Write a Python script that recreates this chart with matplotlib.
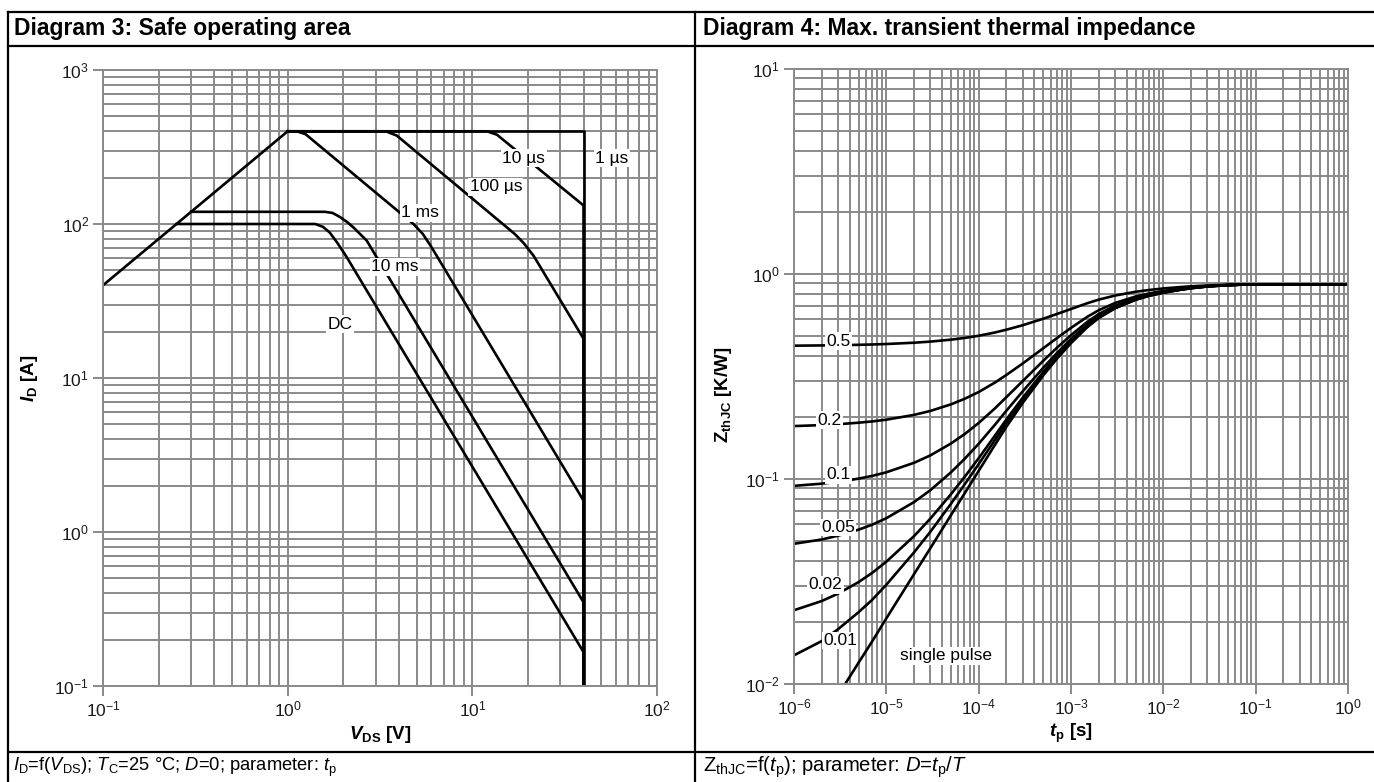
import numpy as np
import matplotlib
matplotlib.use("Agg")
import matplotlib.pyplot as plt
from matplotlib.lines import Line2D
from matplotlib.ticker import LogLocator, NullFormatter

plt.rcParams["font.family"] = ["Liberation Sans", "DejaVu Sans"]
plt.rcParams["mathtext.fontset"] = "custom"
plt.rcParams["mathtext.rm"] = "Liberation Sans"
plt.rcParams["mathtext.it"] = "Liberation Sans:italic"
plt.rcParams["mathtext.bf"] = "Liberation Sans:bold"
plt.rcParams["mathtext.bfit"] = "Liberation Sans:bold:italic"
plt.rcParams["axes.unicode_minus"] = False

# Diagram 3 - safe operating area, V_DS [V] vs I_D [A]
rds_v = [0.1, 1.0]
rds_i = [40, 400]
us1_v = [1.0, 40, 40]
us1_i = [400, 400, 0.1]
us10_v = [1.0, 12.0, 13.6, 40, 40]
us10_i = [400, 400, 380, 132, 0.1]
us100_v = [1.0, 3.4, 3.9, 17.0, 19.0, 21.5, 40, 40]
us100_i = [400, 400, 375, 86, 75, 62, 18, 0.1]
ms1_v = [1.0, 1.12, 1.25, 4.8, 5.4, 6.0, 40, 40]
ms1_i = [400, 400, 383, 100, 86, 71, 1.6, 0.1]
ms10_v = [0.3, 1.59, 1.75, 1.92, 2.1, 2.27, 2.68, 40, 40]
ms10_i = [120, 120, 118, 111, 103, 95, 78, 0.35, 0.1]
dc_v = [0.25, 1.41, 1.55, 1.69, 1.85, 2.08, 40, 40]
dc_i = [100, 100, 96, 88, 76, 61.4, 0.166, 0.1]

# Diagram 4 - max. transient thermal impedance, t_p [s] vs Z_thJC [K/W]
tp = [1e-6, 2e-6, 3e-6, 5e-6, 7e-6, 1e-5, 2e-5, 3e-5, 5e-5, 7e-5,
      1e-4, 1.5e-4, 2e-4, 3e-4, 5e-4, 7e-4, 1e-3, 1.5e-3, 2e-3, 3e-3,
      5e-3, 7e-3, 1e-2, 1.5e-2, 2e-2, 3e-2, 5e-2, 7e-2, 0.1, 0.3, 1.0]
z_d05 = [0.447, 0.4483, 0.4494, 0.4514, 0.4531, 0.4555, 0.4622, 0.468, 0.4783, 0.4874,
         0.4998, 0.5184, 0.535, 0.5625, 0.605, 0.6375, 0.675, 0.72, 0.75, 0.785,
         0.819, 0.8355, 0.85, 0.863, 0.871, 0.8795, 0.8855, 0.8885, 0.89, 0.89, 0.89]
z_d02 = [0.1812, 0.1832, 0.185, 0.1882, 0.1909, 0.1947, 0.2055, 0.2148, 0.2312, 0.2458,
         0.2656, 0.2954, 0.322, 0.366, 0.434, 0.486, 0.546, 0.618, 0.666, 0.722,
         0.7764, 0.8036, 0.826, 0.8468, 0.8596, 0.8732, 0.8836, 0.8876, 0.89, 0.89, 0.89]
z_d01 = [0.0926, 0.0949, 0.0969, 0.1004, 0.1035, 0.1078, 0.12, 0.1304, 0.1489, 0.1652,
         0.1876, 0.221, 0.251, 0.3005, 0.377, 0.4355, 0.503, 0.584, 0.638, 0.701,
         0.7622, 0.7928, 0.818, 0.8414, 0.8558, 0.8711, 0.8828, 0.8873, 0.89, 0.89, 0.89]
z_d005 = [0.0483, 0.0507, 0.0529, 0.0566, 0.0598, 0.0644, 0.0772, 0.0882, 0.1077, 0.125,
          0.1485, 0.1839, 0.2155, 0.2678, 0.3485, 0.4103, 0.4815, 0.567, 0.624, 0.6905,
          0.7551, 0.7874, 0.814, 0.8387, 0.8539, 0.8701, 0.8824, 0.8872, 0.89, 0.89, 0.89]
z_d002 = [0.0229, 0.0254, 0.0276, 0.0314, 0.0348, 0.0395, 0.0527, 0.0641, 0.0842, 0.102,
          0.1263, 0.1628, 0.1954, 0.2493, 0.3326, 0.3963, 0.4698, 0.558, 0.6168, 0.6854,
          0.752, 0.7854, 0.8128, 0.8383, 0.854, 0.8706, 0.8834, 0.888, 0.89, 0.89, 0.89]
z_d001 = [0.0138, 0.0162, 0.0185, 0.0224, 0.0257, 0.0305, 0.0439, 0.0553, 0.0756, 0.0937,
          0.1182, 0.155, 0.188, 0.2425, 0.3266, 0.391, 0.4652, 0.5543, 0.6137, 0.683,
          0.7503, 0.784, 0.8117, 0.8374, 0.8533, 0.8701, 0.883, 0.8879, 0.89, 0.89, 0.89]
z_single = [0.004, 0.0065, 0.0088, 0.0127, 0.0161, 0.0209, 0.0344, 0.046, 0.0665, 0.0847,
            0.1095, 0.1467, 0.18, 0.235, 0.32, 0.385, 0.46, 0.55, 0.61, 0.68,
            0.748, 0.782, 0.81, 0.836, 0.852, 0.869, 0.882, 0.887, 0.89, 0.89, 0.89]

W, H = 1374, 782
fig = plt.figure(figsize=(W / 100, H / 100), dpi=100)
fig.patch.set_facecolor("white")

def px(x0, y0, x1, y1):
    return [x0 / W, 1 - y1 / H, (x1 - x0) / W, (y1 - y0) / H]

ax1 = fig.add_axes(px(103, 70, 657, 686))
ax2 = fig.add_axes(px(794, 69, 1348, 684))

gridc = "#8a8a8a"
for ax in (ax1, ax2):
    ax.set_xscale("log")
    ax.set_yscale("log")
    for axis in (ax.xaxis, ax.yaxis):
        axis.set_major_locator(LogLocator(base=10, numticks=30))
        axis.set_minor_locator(LogLocator(base=10, subs=np.arange(2, 10), numticks=100))
        axis.set_minor_formatter(NullFormatter())
    ax.set_axisbelow(True)
    ax.grid(True, which="both", color=gridc, lw=1.4)
    for s in ax.spines.values():
        s.set_color(gridc)
        s.set_linewidth(1.4)
    ax.tick_params(which="major", length=7, width=1.4, color=gridc, labelsize=12.5,
                   pad=3, labelcolor="#1a1a1a")
    ax.tick_params(which="minor", length=0)

lw = 1.9
box = dict(facecolor="white", edgecolor="none", pad=1.0)

# SOA
ax1.plot(rds_v, rds_i, color="black", lw=lw)
ax1.plot(us1_v, us1_i, color="black", lw=lw)
ax1.plot(us10_v, us10_i, color="black", lw=lw)
ax1.plot(us100_v, us100_i, color="black", lw=lw)
ax1.plot(ms1_v, ms1_i, color="black", lw=lw)
ax1.plot(ms10_v, ms10_i, color="black", lw=lw)
ax1.plot(dc_v, dc_i, color="black", lw=lw)
ax1.set_xlim(0.1, 100)
ax1.set_ylim(0.1, 1000)
for txt, x, y in [("1 µs", 57, 268), ("10 µs", 19, 268), ("100 µs", 13.4, 174),
                  ("1 ms", 5.2, 118), ("10 ms", 3.8, 52.6), ("DC", 1.92, 22.4)]:
    ax1.text(x, y, txt, fontsize=12.5, ha="center", va="center", bbox=box, zorder=5)

ax1.set_xlabel(r"$\mathbfit{V}_{\mathbf{DS}}$ [V]", fontsize=13.5, fontweight="bold")
ax1.set_ylabel(r"$\mathbfit{I}_{\mathbf{D}}$ [A]", fontsize=13.5, fontweight="bold")
ax1.xaxis.set_label_coords(0.5, -0.062)
ax1.yaxis.set_label_coords(-0.114, 0.5)

# Zth
for z in (z_d05, z_d02, z_d01, z_d005, z_d002, z_d001, z_single):
    ax2.plot(tp, z, color="black", lw=lw)
ax2.set_xlim(1e-6, 1)
ax2.set_ylim(0.01, 10)
for txt, x, y in [("0.5", 3.0e-6, 0.47), ("0.2", 2.45e-6, 0.194), ("0.1", 3.0e-6, 0.105),
                  ("0.05", 3.0e-6, 0.058), ("0.02", 2.2e-6, 0.0305), ("0.01", 3.15e-6, 0.0163)]:
    ax2.text(x, y, txt, fontsize=12.5, ha="center", va="center", bbox=box, zorder=5)
ax2.text(4.4e-5, 0.0137, "single pulse", fontsize=12.5, ha="center", va="center",
         bbox=box, zorder=5)

ax2.set_xlabel(r"$\mathbfit{t}_{\mathbf{p}}$ [s]", fontsize=13.5, fontweight="bold")
ax2.set_ylabel(r"Z$_{\mathbf{thJC}}$ [K/W]", fontsize=13.5, fontweight="bold")
ax2.xaxis.set_label_coords(0.5, -0.062)
ax2.yaxis.set_label_coords(-0.108, 0.47)

# table frame
def hline(y, x0=8, x1=W):
    fig.add_artist(Line2D([x0 / W, x1 / W], [1 - y / H, 1 - y / H], color="black", lw=1.6))

def vline(x, y0=12, y1=H):
    fig.add_artist(Line2D([x / W, x / W], [1 - y0 / H, 1 - y1 / H], color="black", lw=1.6))

hline(12)
hline(46)
hline(752)
vline(8)
vline(695)

fig.text(14 / W, 1 - 28 / H, "Diagram 3: Safe operating area", fontsize=16.5,
         fontweight="bold", va="center")
fig.text(703 / W, 1 - 28 / H, "Diagram 4: Max. transient thermal impedance", fontsize=16.5,
         fontweight="bold", va="center")
fig.text(13 / W, 1 - 767 / H,
         r"$\mathit{I}_\mathrm{D}$=f($\mathit{V}_\mathrm{DS}$); $\mathit{T}_\mathrm{C}$=25 °C; "
         r"$\mathit{D}$=0; parameter: $\mathit{t}_\mathrm{p}$",
         fontsize=13.2, va="center")
fig.text(703 / W, 1 - 767 / H,
         r"Z$_\mathrm{thJC}$=f($\mathit{t}_\mathrm{p}$); parameter: $\mathit{D}$=$\mathit{t}_\mathrm{p}$/$\mathit{T}$",
         fontsize=14.6, va="center")

fig.savefig("out.png", dpi=100)
